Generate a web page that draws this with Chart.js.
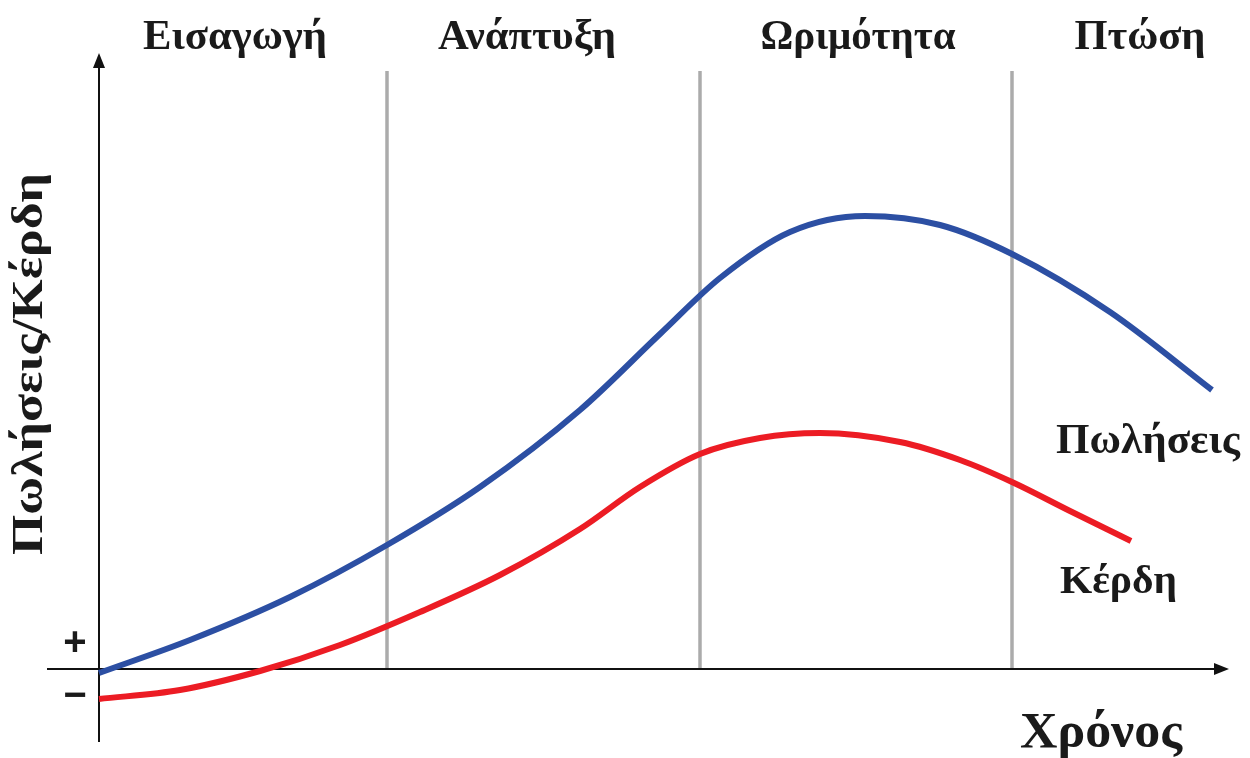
<!DOCTYPE html>
<html lang="el">
<head>
<meta charset="utf-8">
<title>Κύκλος ζωής προϊόντος</title>
<script src="https://cdn.jsdelivr.net/npm/chart.js@4.4.1/dist/chart.umd.min.js"></script>
<style>
  html, body { margin: 0; padding: 0; background: #ffffff; }
  canvas { display: block; }
</style>
</head>
<body>
<canvas id="plc" width="1250" height="758"></canvas>
<script>
// Stages of the product life cycle and where each one ends on the time axis
const stageNames = ['Εισαγωγή', 'Ανάπτυξη', 'Ωριμότητα', 'Πτώση'];
const stageBounds = [2.88, 6.01, 9.13];

// Sales curve (time, level)
const salesTime  = [0, 0.91, 1.91, 2.88, 3.81, 4.81, 5.61, 6.21, 6.91, 7.66, 8.41, 9.13, 10.11, 11.13];
const salesLevel = [-0.4, 2.9, 7.2, 12.4, 18.2, 25.9, 33.5, 39.1, 43.7, 45.3, 44.4, 41.5, 35.7, 27.9];

// Profit curve (time, level)
const profitTime  = [0, 0.81, 1.61, 2.41, 3.21, 4.01, 4.81, 5.41, 6.01, 6.61, 7.21, 8.01, 8.61, 9.13, 9.71, 10.32];
const profitLevel = [-3.0, -2.1, -0.2, 2.4, 5.7, 9.4, 14.0, 18.2, 21.5, 23.1, 23.6, 22.7, 20.9, 18.7, 15.8, 12.8];

const toPoints = (xs, ys) => xs.map((x, i) => ({ x: x, y: ys[i] }));

const X_MIN = 0, X_MAX = 11.3, Y_MIN = -7.3, Y_MAX = 61.6;
const SERIF = '"Liberation Serif", "Times New Roman", "DejaVu Serif", serif';

// Draws text squeezed or stretched horizontally so it spans the given width
function fitText(ctx, text, cx, baseline, font, width) {
  ctx.save();
  ctx.font = font;
  ctx.textAlign = 'center';
  ctx.textBaseline = 'alphabetic';
  const w = ctx.measureText(text).width;
  ctx.translate(cx, baseline);
  ctx.scale(width / w, 1);
  ctx.fillText(text, 0, 0);
  ctx.restore();
}

// Axes with arrowheads and the grey stage separators, drawn under the curves
const frame = {
  id: 'frame',
  beforeDatasetsDraw(chart) {
    const { ctx, scales: { x, y } } = chart;
    const x0 = x.getPixelForValue(0);
    const y0 = y.getPixelForValue(0);
    ctx.save();

    // stage separators
    ctx.strokeStyle = '#ababab';
    ctx.lineWidth = 3.5;
    stageBounds.forEach(b => {
      const px = Math.round(x.getPixelForValue(b));
      ctx.beginPath();
      ctx.moveTo(px, y.getPixelForValue(59.8));
      ctx.lineTo(px, y0);
      ctx.stroke();
    });

    ctx.strokeStyle = '#111111';
    ctx.fillStyle = '#111111';
    ctx.lineWidth = 2;

    // vertical axis
    const yTop = y.getPixelForValue(Y_MAX);
    ctx.beginPath();
    ctx.moveTo(x0, y.getPixelForValue(Y_MIN));
    ctx.lineTo(x0, yTop + 10);
    ctx.stroke();
    ctx.beginPath();
    ctx.moveTo(x0, yTop);
    ctx.lineTo(x0 - 6, yTop + 15);
    ctx.lineTo(x0 + 6, yTop + 15);
    ctx.closePath();
    ctx.fill();

    // horizontal axis
    const xRight = x.getPixelForValue(X_MAX);
    ctx.beginPath();
    ctx.moveTo(x.getPixelForValue(-0.52), y0);
    ctx.lineTo(xRight - 10, y0);
    ctx.stroke();
    ctx.beginPath();
    ctx.moveTo(xRight, y0);
    ctx.lineTo(xRight - 15, y0 - 6);
    ctx.lineTo(xRight - 15, y0 + 6);
    ctx.closePath();
    ctx.fill();

    ctx.restore();
  }
};

// Stage titles, axis titles, curve names and the +/- signs
const labels = {
  id: 'labels',
  afterDraw(chart) {
    const { ctx, scales: { x } } = chart;
    ctx.save();
    ctx.fillStyle = '#1a1a1a';

    const stageCenters = [1.36, 4.28, 7.59, 10.41];
    const stageWidths = [184, 178, 195, 131];
    stageNames.forEach((name, i) => {
      fitText(ctx, name, x.getPixelForValue(stageCenters[i]), 49, 'bold 43px ' + SERIF, stageWidths[i]);
    });

    // vertical axis title
    ctx.save();
    ctx.translate(42, 364);
    ctx.rotate(-Math.PI / 2);
    fitText(ctx, 'Πωλήσεις/Κέρδη', 0, 0, 'bold 44px ' + SERIF, 382);
    ctx.restore();

    // horizontal axis title
    fitText(ctx, 'Χρόνος', 1101, 747, 'bold 51px ' + SERIF, 162);

    // curve names
    fitText(ctx, 'Πωλήσεις', 1148, 453, 'bold 42px ' + SERIF, 184);
    fitText(ctx, 'Κέρδη', 1118.5, 593, 'bold 41px ' + SERIF, 117);

    // signs either side of the zero line
    ctx.font = 'bold 40px "Liberation Sans", Arial, sans-serif';
    ctx.textAlign = 'center';
    ctx.textBaseline = 'middle';
    ctx.fillText('+', 75, 644);
    ctx.fillText('\u2212', 75, 697);

    ctx.restore();
  }
};

new Chart(document.getElementById('plc'), {
  type: 'line',
  data: {
    datasets: [
      {
        label: 'Πωλήσεις',
        data: toPoints(salesTime, salesLevel),
        borderColor: '#2c4fa3',
        borderWidth: 6,
        cubicInterpolationMode: 'monotone',
        pointRadius: 0,
        fill: false,
        clip: false
      },
      {
        label: 'Κέρδη',
        data: toPoints(profitTime, profitLevel),
        borderColor: '#ec1c24',
        borderWidth: 6,
        cubicInterpolationMode: 'monotone',
        pointRadius: 0,
        fill: false,
        clip: false
      }
    ]
  },
  options: {
    responsive: false,
    animation: false,
    devicePixelRatio: 1,
    layout: { padding: { left: 99, right: 21, top: 53, bottom: 16 } },
    plugins: { legend: { display: false }, tooltip: { enabled: false } },
    scales: {
      x: { type: 'linear', min: X_MIN, max: X_MAX, display: false },
      y: { type: 'linear', min: Y_MIN, max: Y_MAX, display: false }
    }
  },
  plugins: [frame, labels]
});
</script>
</body>
</html>
